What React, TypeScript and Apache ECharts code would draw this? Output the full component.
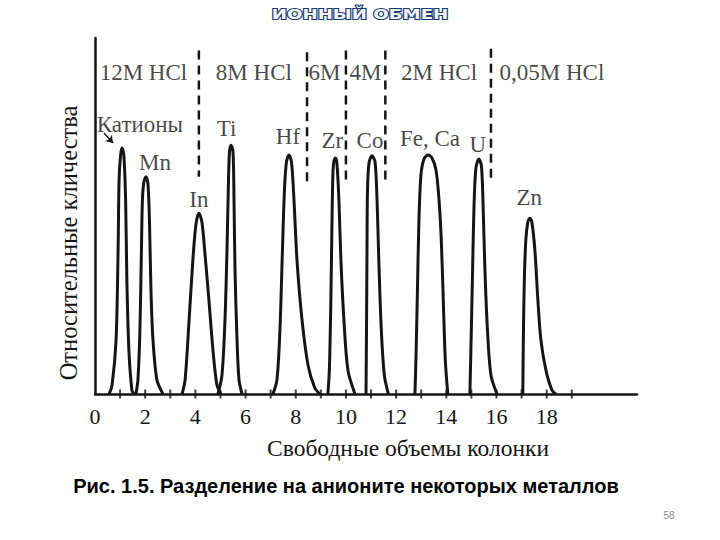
import React, { useEffect, useRef } from "react";
import * as echarts from "echarts";

// ---- data (x: column free volumes, y: relative amount 0..100) ----
const peakCations = [[0.56, 0], [0.68, 2.5], [0.84, 15.2], [0.92, 40.4], [0.96, 60.1], [1.02, 67.1], [1.08, 69.1], [1.15, 67.1], [1.22, 54.5], [1.27, 32.0], [1.35, 12.4], [1.47, 1.1], [1.55, 0]];
const peakMn = [[1.63, 0], [1.71, 3.9], [1.79, 18], [1.85, 40.4], [1.89, 54.5], [1.95, 59.6], [2.03, 61.0], [2.11, 59.0], [2.17, 48.9], [2.23, 29.2], [2.31, 15.2], [2.47, 3.9], [2.71, 0]];
const peakIn = [[3.47, 0], [3.59, 3.9], [3.75, 20.8], [3.9, 37.6], [4.02, 47.5], [4.14, 50.8], [4.26, 48.3], [4.38, 39.6], [4.54, 26.4], [4.7, 12.4], [4.86, 2.5], [5.02, 0]];
const peakTi = [[4.9, 0], [5.06, 5.3], [5.18, 20.8], [5.26, 40.4], [5.32, 60.1], [5.36, 68.0], [5.42, 69.9], [5.5, 68.0], [5.54, 54.5], [5.58, 34.8], [5.66, 15.2], [5.74, 3.9], [5.86, 0]];
const peakHf = [[7.09, 0], [7.25, 3.9], [7.37, 18], [7.47, 40.4], [7.55, 57.3], [7.63, 65.2], [7.73, 67.1], [7.83, 65.2], [7.93, 54.5], [8.05, 37.6], [8.25, 20.8], [8.49, 8.1], [8.76, 1.7], [8.96, 0]];
const peakZr = [[9.28, 0], [9.34, 6.7], [9.4, 26.4], [9.44, 46.1], [9.48, 61.5], [9.52, 65.4], [9.58, 66.3], [9.64, 64.9], [9.72, 54.5], [9.8, 37.6], [9.92, 20.8], [10.08, 6.7], [10.36, 0]];
const peakCo = [[10.8, 0], [10.82, 18], [10.84, 40.4], [10.86, 57.3], [10.92, 64.9], [11.04, 66.9], [11.16, 65.2], [11.24, 54.5], [11.31, 37.6], [11.41, 18], [11.53, 5.3], [11.69, 0]];
const peakFeCa = [[12.75, 0], [12.79, 9.6], [12.85, 29.2], [12.91, 48.9], [12.99, 61.5], [13.11, 66.0], [13.27, 67.1], [13.43, 66.3], [13.59, 62.9], [13.71, 54.5], [13.8, 43.3], [13.88, 26.4], [13.96, 9.6], [14.06, 0]];
const peakU = [[14.94, 0], [14.98, 12.4], [15.04, 32.0], [15.1, 51.7], [15.18, 63.5], [15.3, 66.0], [15.4, 64.0], [15.46, 54.5], [15.54, 34.8], [15.64, 18], [15.78, 5.3], [16.02, 0]];
const peakZn = [[17.05, 0], [17.07, 15.2], [17.11, 32.0], [17.17, 43.3], [17.25, 48.3], [17.33, 49.4], [17.41, 48.3], [17.53, 40.4], [17.65, 26.4], [17.77, 15.2], [17.97, 6.7], [18.21, 1.1], [18.37, 0]];
const peaks = [peakCations, peakMn, peakIn, peakTi, peakHf, peakZr, peakCo, peakFeCa, peakU, peakZn];

const elementNames = ["Катионы", "Mn", "In", "Ti", "Hf", "Zr", "Co", "Fe, Ca", "U", "Zn"];
const elementX = [1.79, 2.39, 4.14, 5.24, 7.69, 9.46, 10.96, 13.35, 15.26, 17.31];
const elementY = [75.8, 64.9, 54.5, 74.7, 72.2, 71.3, 71.3, 71.9, 70.2, 55.3];

const eluentNames = ["12M HCl", "8M HCl", "6M", "4M", "2M HCl", "0,05M HCl"];
const eluentX = [1.93, 6.33, 9.14, 10.78, 13.71, 18.21];
const eluentY = [90.4, 90.2, 90.4, 90.4, 90.4, 90.4];

const dividerX = [4.14, 8.45, 10.0, 11.57, 15.78];
const dividerTop = [96.5, 96.0, 96.5, 96.5, 97.0];
const dividerBottom = [61.0, 59.3, 59.3, 60.1, 60.1];

const xLabelValues = [0, 2, 4, 6, 8, 10, 12, 14, 16, 18];
const xTickValues = [1, 2, 3, 4, 5, 6, 7, 8, 9, 10, 11, 12, 13, 14, 15, 16, 17, 18, 19];

const SERIF = '"Liberation Serif", "DejaVu Serif", serif';
const INK = "#151515";

export default function App() {
  const ref = useRef<HTMLDivElement>(null);
  useEffect(() => {
    if (!ref.current) return;
    const chart = echarts.init(ref.current, undefined, { renderer: "svg" });
    const series: any[] = [];
    peaks.forEach((p) => {
      series.push({
        type: "line",
        data: p,
        smooth: 0.3,
        symbol: "none",
        lineStyle: { color: INK, width: 3 },
        z: 3,
      });
    });
    dividerX.forEach((x, i) => {
      series.push({
        type: "line",
        data: [[x, dividerTop[i]], [x, dividerBottom[i]]],
        symbol: "none",
        lineStyle: { color: INK, width: 2.5, type: [9, 6] },
        z: 2,
      });
    });
    series.push({
      type: "scatter",
      data: xTickValues.map((v) => [v, 0]),
      symbol: "rect",
      symbolSize: [2, 9],
      itemStyle: { color: INK },
      z: 4,
    });
    series.push({
      type: "scatter",
      data: elementNames.map((n, i) => ({ name: n, value: [elementX[i], elementY[i]] })),
      symbolSize: 0,
      label: {
        show: true,
        position: "inside",
        formatter: "{b}",
        fontFamily: SERIF,
        fontSize: 23,
        color: INK,
      },
      markLine: {
        silent: true,
        symbol: ["none", "arrow"],
        symbolSize: 7,
        label: { show: false },
        lineStyle: { color: INK, width: 1.5, type: "solid" },
        data: [[{ coord: [0.36, 73.3] }, { coord: [0.72, 70.5] }]],
      },
      z: 5,
    });
    series.push({
      type: "scatter",
      data: eluentNames.map((n, i) => ({ name: n, value: [eluentX[i], eluentY[i]] })),
      symbolSize: 0,
      label: {
        show: true,
        position: "inside",
        formatter: "{b}",
        fontFamily: SERIF,
        fontSize: 23,
        color: INK,
      },
      z: 5,
    });

    chart.setOption({
      animation: false,
      backgroundColor: "#ffffff",
      grid: { left: 95, right: 83, top: 38, bottom: 146, containLabel: false },
      xAxis: {
        type: "value",
        min: 0,
        max: 21.6,
        axisLine: { show: true, lineStyle: { color: INK, width: 2.5 } },
        axisTick: { show: false },
        splitLine: { show: false },
        axisLabel: {
          customValues: xLabelValues,
          fontFamily: SERIF,
          fontSize: 22,
          color: INK,
          margin: 11,
          showMinLabel: true,
        },
      },
      yAxis: {
        type: "value",
        min: 0,
        max: 100,
        axisLine: { show: true, lineStyle: { color: INK, width: 2.5 } },
        axisTick: { show: false },
        axisLabel: { show: false },
        splitLine: { show: false },
      },
      graphic: [
        {
          type: "text",
          x: 360,
          y: 14,
          scaleX: 1.3,
          style: {
            text: "ИОННЫЙ ОБМЕН",
            font: 'bold 14px "DejaVu Sans", sans-serif',
            fill: "#f2f6fc",
            stroke: "#1d3a6c",
            lineWidth: 2,
            textAlign: "center",
            textVerticalAlign: "middle",
          },
        },
        {
          type: "text",
          x: 408,
          y: 448,
          style: {
            text: "Свободные объемы колонки",
            font: '23.5px "Liberation Serif", serif',
            fill: INK,
            textAlign: "center",
            textVerticalAlign: "middle",
          },
        },
        {
          type: "text",
          x: 68,
          y: 243,
          rotation: Math.PI / 2,
          style: {
            text: "Относительные кличества",
            font: '24.5px "Liberation Serif", serif',
            fill: INK,
            textAlign: "center",
            textVerticalAlign: "middle",
          },
        },
        {
          type: "text",
          x: 346,
          y: 486,
          style: {
            text: "Рис. 1.5. Разделение на анионите некоторых металлов",
            font: 'bold 20px "Liberation Sans", Arial, sans-serif',
            fill: "#000000",
            textAlign: "center",
            textVerticalAlign: "middle",
          },
        },
        {
          type: "text",
          x: 669,
          y: 515,
          style: {
            text: "58",
            font: '10px "Liberation Sans", sans-serif',
            fill: "#8a8a8a",
            textAlign: "center",
            textVerticalAlign: "middle",
          },
        },
      ],
      series,
    });
    return () => chart.dispose();
  }, []);
  return <div ref={ref} style={{ width: 720, height: 540, position: "absolute", left: 0, top: 0 }} />;
}
